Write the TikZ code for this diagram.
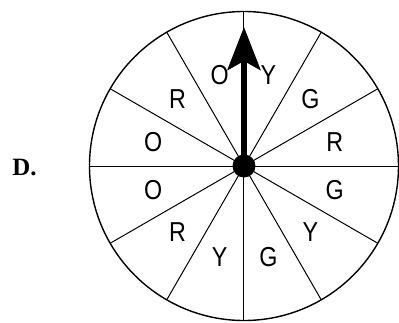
\documentclass[tikz,border=0pt]{standalone}
\usepackage{fontspec}
\setmainfont{Liberation Sans}
\newfontfamily\letras[FakeStretch=0.85]{Liberation Sans}
\newfontfamily\letraD{Liberation Serif}
\usetikzlibrary{arrows.meta}

\begin{document}
\begin{tikzpicture}[x=1bp,y=1bp,>=Stealth,
    sector/.style={font=\letras\fontsize{27.5}{27.5}\selectfont}]
  \useasboundingbox (-244,-157) rectangle (155,166);
  \coordinate (O) at (0,0);
  \coordinate (tip) at (90:139);
  \draw[line width=1.4bp] (O) circle (154.5);
  \foreach \a in {0,30,...,330}
    \draw[line width=1bp] (O) -- (\a:154.5);
  \foreach \a/\c in {15/R,45/G,75/Y,105/O,135/R,165/O,195/O,225/R,255/Y,285/G,315/Y,345/G}
    \node[sector] (s\a) at (\a:94) {\c};
  \draw[-{Stealth[length=43bp,width=33bp,inset=9bp]},line width=6bp] (O) -- (tip);
  \fill (O) circle (11.5);
  \node[font=\letraD\bfseries\fontsize{25}{25}\selectfont] (D) at (-219.5,-2) {D.};
\end{tikzpicture}
\end{document}
